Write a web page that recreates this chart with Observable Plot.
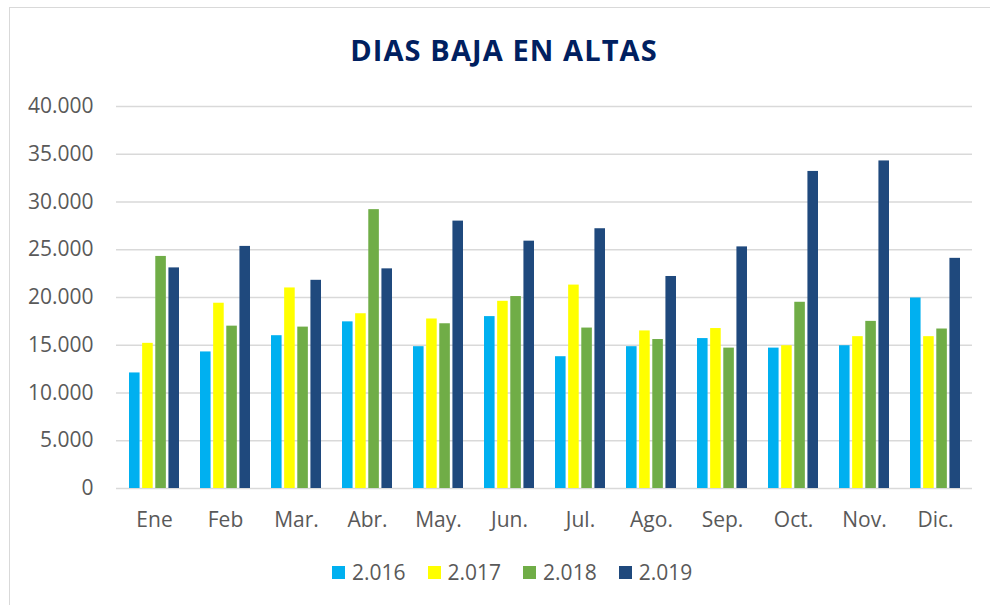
<!DOCTYPE html>
<html>
<head>
<meta charset="utf-8">
<script src="https://cdn.jsdelivr.net/npm/d3@7"></script>
<script src="https://cdn.jsdelivr.net/npm/@observablehq/plot@0.6"></script>
<style>
  html, body { margin: 0; padding: 0; background: #fff; overflow: hidden; }
  #wrap { position: relative; width: 990px; height: 605px; overflow: hidden; font-family: "Open Sans", sans-serif; }
  #border { position: absolute; left: 9px; top: 7px; width: 1000px; height: 620px; border: 1px solid #D9D9D9; box-sizing: border-box; }
  #title { position: absolute; left: 0; top: 0; width: 1008px; height: 80px; line-height: 100px; text-align: center; font-weight: 700; font-size: 29px; letter-spacing: 1.1px; color: #002060; }
  #chart { position: absolute; left: 0; top: 80px; }
  #legend { position: absolute; left: 332px; top: 558px; display: flex; align-items: center; font-size: 21px; color: #595959; }
  .item { display: flex; align-items: center; margin-right: 22px; }
  .sw { width: 13px; height: 13px; margin-right: 7px; }
</style>
</head>
<body>
<div id="wrap">
  <div id="border"></div>
  <div id="title">DIAS BAJA EN ALTAS</div>
  <div id="chart"></div>
  <div id="legend"></div>
</div>
<script>
const months = ["Ene","Feb","Mar.","Abr.","May.","Jun.","Jul.","Ago.","Sep.","Oct.","Nov.","Dic."];
const series = ["2.016","2.017","2.018","2.019"];
const colors = ["#00B0F0","#FFFF00","#70AD47","#1F497D"];
const v2016 = [12100,14300,16000,17450,14850,18000,13800,14850,15700,14700,14950,19950];
const v2017 = [15200,19400,21000,18300,17750,19600,21300,16500,16750,14950,15900,15900];
const v2018 = [24300,17000,16900,29200,17250,20100,16800,15600,14700,19500,17500,16700];
const v2019 = [23100,25350,21800,23000,28000,25900,27200,22200,25300,33200,34300,24100];
const yTicks = [0,5000,10000,15000,20000,25000,30000,35000,40000];

const allValues = [v2016, v2017, v2018, v2019];
const fmt = d => d3.format(",")(d).replace(/,/g, ".");

const W = 990, ML = 116, MR = 18;
const pInner = 0.3, pOuter = 0.15;
const step = (W - ML - MR) / (months.length - pInner + 2 * pOuter);
const band = step * (1 - pInner);
const subPad = 0.2;
const subStep = band / (series.length - subPad);
const barW = subStep * (1 - subPad);

const barMarks = series.map((s, i) => {
  const rows = months.map((m, j) => ({ month: m, series: s, value: allValues[i][j] }));
  const left = i * subStep;
  return Plot.barY(rows, {
    x: "month", y: "value", fill: colors[i],
    insetLeft: left, insetRight: band - left - barW
  });
});

const chart = Plot.plot({
  width: W,
  height: 458,
  marginTop: 26,
  marginBottom: 50,
  marginLeft: ML,
  marginRight: MR,
  style: { fontFamily: "Open Sans, sans-serif", fontSize: "21px", color: "#595959", background: "transparent", overflow: "visible" },
  x: { domain: months, paddingInner: pInner, paddingOuter: pOuter, label: null, tickSize: 0, tickPadding: 24 },
  y: { domain: [0, 40000], ticks: yTicks, tickFormat: fmt, tickSize: 0, tickPadding: 23, label: null },
  marks: [
    Plot.ruleY(yTicks, { stroke: "#D9D9D9", strokeWidth: 1.5 }),
    ...barMarks
  ]
});
document.getElementById("chart").appendChild(chart);

const legend = document.getElementById("legend");
series.forEach((s, i) => {
  const it = document.createElement("div");
  it.className = "item";
  const sw = document.createElement("div");
  sw.className = "sw";
  sw.style.background = colors[i];
  const tx = document.createElement("span");
  tx.textContent = s;
  it.appendChild(sw);
  it.appendChild(tx);
  legend.appendChild(it);
});
</script>
</body>
</html>
